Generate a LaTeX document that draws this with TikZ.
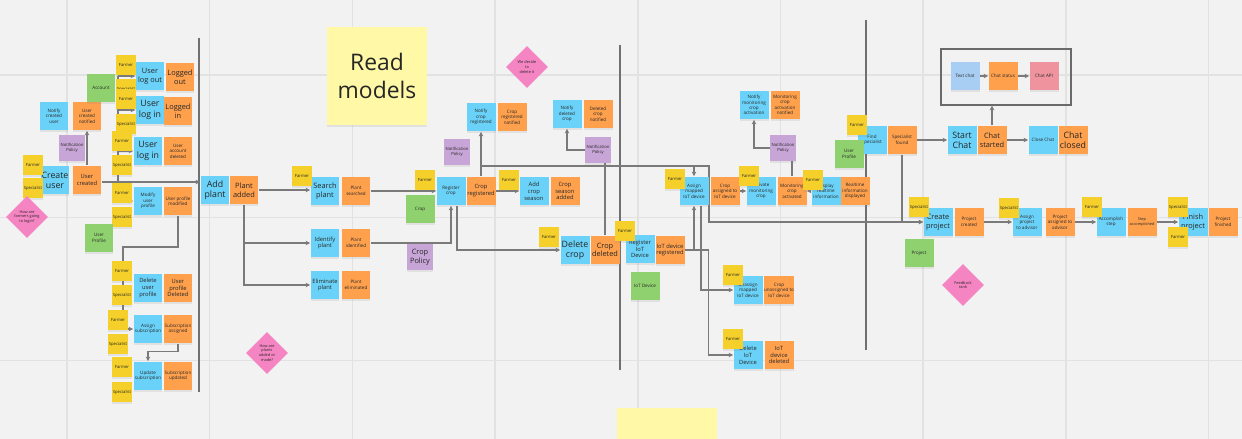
\documentclass[tikz,border=0pt]{standalone}
\usepackage{fontspec}
\setmainfont{Open Sans}
\usetikzlibrary{shapes.geometric,arrows.meta,shadows}
\pgfdeclarelayer{back}
\pgfdeclarelayer{wires}
\pgfsetlayers{back,wires,main}
\definecolor{boardbg}{HTML}{F2F2F2}
\definecolor{gridline}{HTML}{E2E2E2}
\definecolor{sepgray}{HTML}{707070}
\definecolor{wiregray}{HTML}{7A7A7A}
\definecolor{boxgray}{HTML}{6A6A6A}
\definecolor{cmdblue}{HTML}{6AD2F8}
\definecolor{evtorange}{HTML}{FFA04D}
\definecolor{actyellow}{HTML}{F5D02A}
\definecolor{aggrgreen}{HTML}{8FD16F}
\definecolor{polpurple}{HTML}{C8A5D7}
\definecolor{hotpink}{HTML}{F584C3}
\definecolor{readyellow}{HTML}{FFF8A6}
\definecolor{sendblue}{HTML}{A9CEF4}
\definecolor{kpired}{HTML}{EF949F}
\tikzset{
  sticky/.style={rectangle, inner sep=0.3pt, align=center, text=black!85,
    font=\fontsize{2.6}{3.1}\selectfont,
    drop shadow={shadow xshift=0pt, shadow yshift=-1pt, opacity=0.15}},
  cmd/.style={sticky, fill=cmdblue, minimum width=0.58cm, minimum height=0.58cm},
  evt/.style={sticky, fill=evtorange, minimum width=0.58cm, minimum height=0.58cm},
  actor/.style={sticky, fill=actyellow, minimum size=0.4cm, font=\fontsize{2.4}{2.9}\selectfont},
  aggr/.style={sticky, fill=aggrgreen, minimum size=0.58cm},
  policy/.style={sticky, fill=polpurple, minimum size=0.52cm, font=\fontsize{2.4}{2.9}\selectfont},
  hotspot/.style={diamond, aspect=1, fill=hotpink, minimum size=0.84cm, inner sep=0pt,
    align=center, text=black!85, font=\fontsize{2.2}{2.7}\selectfont},
  bigtxt/.style={font=\fontsize{5}{5.8}\selectfont},
  lgtxt/.style={font=\fontsize{4.2}{4.9}\selectfont},
  midtxt/.style={font=\fontsize{3.3}{3.9}\selectfont},
  tinytxt/.style={font=\fontsize{2.2}{2.7}\selectfont},
  wire/.style={draw=wiregray, line width=0.6pt, -{Stealth[length=2.6pt,width=2.6pt]}},
  plainwire/.style={draw=wiregray, line width=0.6pt},
}
\begin{document}
\begin{tikzpicture}[x=0.02cm, y=-0.02cm]
\useasboundingbox (0,0) rectangle (1242,439);

\node[sticky, fill=readyellow, minimum width=2cm, minimum height=1.96cm, font=\fontsize{13}{15.5}\selectfont] (readmodels) at (377,76) {Read\\models};
\node[sticky, fill=readyellow, minimum width=2cm, minimum height=1.96cm] (draft) at (667,457) {};

\node[cmd, lgtxt] (userlogout) at (150,76) {User\\log out};
\node[evt, lgtxt] (loggedout) at (180,77) {Logged\\out};
\node[cmd, bigtxt] (userlogin1) at (150,110) {User\\log in};
\node[evt, lgtxt] (loggedin) at (178,111) {Logged\\in};
\node[cmd, bigtxt] (userlogin2) at (148,151) {User\\log in};
\node[evt] (accountdeleted) at (178,151) {User\\account\\deleted};
\node[cmd] (notifyuser) at (54,116) {Notify\\created\\user};
\node[evt] (usernotified) at (87,116) {User\\created\\notified};
\node[cmd, bigtxt] (createuser) at (55,180) {Create\\user};
\node[evt, midtxt] (usercreated) at (87,180) {User\\created};
\node[cmd] (modifyprofile) at (148,201) {Modify\\user\\profile};
\node[evt] (profilemodified) at (178,201) {User profile\\modified};
\node[cmd, midtxt] (deleteprofile) at (148,288) {Delete\\user\\profile};
\node[evt, midtxt] (profiledeleted) at (178,288) {User\\profile\\Deleted};
\node[cmd] (assignsub) at (148,329) {Assign\\subscription};
\node[evt] (subassigned) at (178,329) {Subscription\\assigned};
\node[cmd] (updatesub) at (148,376) {Update\\subscription};
\node[evt] (subupdated) at (178,376) {Subscription\\updated};

\node[actor] (farmer1) at (126,65) {Farmer};
\node[actor] (spec1) at (126,89) {Specialist};
\node[actor] (farmer2) at (126,99) {Farmer};
\node[actor] (spec2) at (126,124) {Specialist};
\node[actor] (farmer3) at (122,141) {Farmer};
\node[actor] (spec3) at (122,165) {Specialist};
\node[actor] (farmer4) at (122,193) {Farmer};
\node[actor] (spec4) at (122,217) {Specialist};
\node[actor] (farmer5) at (33,165) {Farmer};
\node[actor] (spec5) at (33,188) {Specialist};
\node[actor] (farmer6) at (122,271) {Farmer};
\node[actor] (spec6) at (122,295) {Specialist};
\node[actor] (farmer7) at (118,320) {Farmer};
\node[actor] (spec7) at (118,344) {Specialist};
\node[actor] (farmer8) at (122,367) {Farmer};
\node[actor] (spec8) at (122,392) {Specialist};
\node[aggr] (account) at (101,88) {Account};
\node[aggr] (userprofile1) at (99,238) {User\\Profile};
\node[policy] (policy1) at (72,148) {Notification\\Policy};
\node[hotspot] (hot1) at (27,217) {How are\\farmers going\\to login?};
\node[hotspot] (hot2) at (267,353) {How are\\plants\\added or\\made?};

\node[cmd, bigtxt] (addplant) at (215,190) {Add\\plant};
\node[evt, lgtxt] (plantadded) at (244,190) {Plant\\added};
\node[cmd, lgtxt] (searchplant) at (325,191) {Search\\plant};
\node[evt] (plantsearched) at (356,191) {Plant\\searched};
\node[cmd, midtxt] (identifyplant) at (325,243) {Identify\\plant};
\node[evt] (plantidentified) at (356,243) {Plant\\identified};
\node[cmd, midtxt] (eliminateplant) at (325,285) {Eliminate\\plant};
\node[evt] (planteliminated) at (356,285) {Plant\\eliminated};
\node[cmd] (registercrop) at (451,191) {Register\\crop};
\node[evt, midtxt] (cropregistered) at (481,191) {Crop\\registered};
\node[cmd] (notifycropreg) at (481,117) {Notify\\crop\\registered};
\node[evt] (cropregnotified) at (512,117) {Crop\\registered\\notified};
\node[cmd, midtxt] (addcropseason) at (534,191) {Add\\crop\\season};
\node[evt, midtxt] (seasonadded) at (565,191) {Crop\\season\\added};
\node[cmd, bigtxt] (deletecrop) at (575,250) {Delete\\crop};
\node[evt, lgtxt] (cropdeleted) at (605,250) {Crop\\deleted};
\node[cmd] (notifydeleted) at (567,114) {Notify\\deleted\\crop};
\node[evt] (deletednotified) at (598,114) {Deleted\\crop\\notified};

\node[actor] (farmer9) at (302,176) {Farmer};
\node[actor] (farmer10) at (425,180) {Farmer};
\node[aggr] (crop) at (420,209) {Crop};
\node[policy, lgtxt] (croppolicy) at (420,257) {Crop\\Policy};
\node[policy] (policy2) at (457,152) {Notification\\Policy};
\node[actor] (farmer11) at (509,180) {Farmer};
\node[actor] (farmer12) at (549,237) {Farmer};
\node[policy] (policy3) at (598,150) {Notification\\Policy};
\node[hotspot] (hot3) at (527,67) {We decide\\to\\delete it};

\node[cmd, midtxt] (registeriot) at (640,249) {Register\\IoT\\Device};
\node[evt, midtxt] (iotregistered) at (670,250) {IoT device\\registered};
\node[cmd] (assignmapped) at (694,191) {Assign\\mapped\\IoT device};
\node[evt] (cropassigned) at (725,191) {Crop\\assigned to\\IoT device};
\node[cmd] (activatemon) at (761,191) {Activate\\monitoring\\crop};
\node[evt] (monactivated) at (792,191) {Monitoring\\crop\\activated};
\node[cmd] (notifymon) at (754,105) {Notify\\monitoring\\crop\\activation};
\node[evt] (monnotified) at (785,105) {Monitoring\\crop\\activation\\notified};
\node[cmd] (displayrt) at (826,191) {Display\\realtime\\information};
\node[evt] (rtdisplayed) at (855,191) {Realtime\\information\\displayed};
\node[cmd] (unassign) at (748,290) {Unassign\\mapped\\IoT device};
\node[evt] (cropunassigned) at (779,290) {Crop\\unassigned to\\IoT device};
\node[cmd, midtxt] (deleteiot) at (748,355) {Delete\\IoT\\Device};
\node[evt, midtxt] (iotdeleted) at (779,355) {IoT\\device\\deleted};

\node[actor] (farmer13) at (625,231) {Farmer};
\node[aggr] (iotdevice) at (645,286) {IoT Device};
\node[actor] (farmer14) at (675,179) {Farmer};
\node[actor] (farmer15) at (749,176) {Farmer};
\node[policy] (policy4) at (783,148) {Notification\\Policy};
\node[actor] (farmer16) at (813,180) {Farmer};
\node[actor] (farmer17) at (733,275) {Farmer};
\node[actor] (farmer18) at (733,339) {Farmer};

\node[cmd] (findspecialist) at (872,140) {Find\\specialist};
\node[evt] (specialistfound) at (902,140) {Specialist\\found};
\node[cmd, bigtxt] (startchat) at (962,140) {Start\\Chat};
\node[evt, lgtxt] (chatstarted) at (992,140) {Chat\\started};
\node[cmd] (closechat) at (1043,140) {Close Chat};
\node[evt, bigtxt] (chatclosed) at (1073,140) {Chat\\closed};
\node[draw=boxgray, line width=0.8pt, minimum width=2.6cm, minimum height=1.12cm] (chatbox) at (1006,77) {};
\node[sticky, fill=sendblue, minimum size=0.58cm] (sendtext) at (965,76) {Text chat};
\node[evt] (chatstatus) at (1003,76) {Chat status};
\node[sticky, fill=kpired, minimum size=0.58cm] (chatapi) at (1044,76) {Chat API};
\node[cmd, lgtxt] (createproject) at (938,222) {Create\\project};
\node[evt] (projectcreated) at (969,222) {Project\\created};
\node[cmd] (assignproject) at (1027,222) {Assign\\project\\to advisor};
\node[evt] (projectassigned) at (1060,222) {Project\\assigned to\\advisor};
\node[cmd] (accomplishstep) at (1111,222) {Accomplish\\step};
\node[evt, tinytxt] (stepaccomplished) at (1142,222) {Step\\accomplished};
\node[cmd, lgtxt] (finishproject) at (1193,222) {Finish\\project};
\node[evt] (projectfinished) at (1223,222) {Project\\finished};

\node[actor] (farmer19) at (857,125) {Farmer};
\node[aggr] (userprofile2) at (849,154) {User\\Profile};
\node[actor] (spec9) at (919,207) {Specialist};
\node[aggr] (project) at (919,253) {Project};
\node[actor] (spec10) at (1009,208) {Specialist};
\node[actor] (farmer20) at (1092,207) {Farmer};
\node[actor] (spec11) at (1178,207) {Specialist};
\node[actor] (farmer21) at (1178,237) {Farmer};
\node[hotspot] (hot4) at (963,285) {Feedback\\rank};

\begin{pgfonlayer}{wires}
\coordinate (trunk) at (118,182);
\coordinate (bend1) at (123,247);
\coordinate (bus) at (709,166);
\draw[wire] (usercreated.east |- trunk) -- (addplant.west |- trunk);
\draw[plainwire] (trunk) -- (trunk |- userlogout.west);
\draw[wire] (trunk |- userlogout.west) -- (userlogout.west);
\draw[wire] (trunk |- userlogin1.west) -- (userlogin1.west);
\draw[wire] (trunk |- userlogin2.west) -- (userlogin2.west);
\draw[wire] (trunk) |- (modifyprofile.west);
\draw[wire] (usercreated.north) -- (usernotified.south);
\draw[wire] (profilemodified.south) |- (bend1) |- (assignsub.west);
\draw[wire] (subassigned.south) -- ++(0,8) -| (updatesub.north);
\draw[wire] (plantadded.east) -- (searchplant.west |- plantadded.east);
\draw[wire] (plantadded.south) |- (identifyplant.west);
\draw[wire] (plantadded.south) |- (eliminateplant.west);
\draw[wire] (plantsearched.east) -- (registercrop.west);
\draw[wire] (plantidentified.east) -| (registercrop.south);
\draw[wire] ([xshift=0.12cm]registercrop.south) |- (deletecrop.west);
\draw[wire] (cropregistered.north) -- (notifycropreg.south);
\draw[wire] (cropregistered.east) -- (addcropseason.west);
\draw[wire] (cropregistered.north) |- (bus) |- (createproject.west);
\draw[wire] (assignmapped.north |- bus) -- (assignmapped.north);
\draw[plainwire] (cropdeleted.north) -- (cropdeleted.north |- policy3.south);
\draw[wire] (policy3.west) -| (notifydeleted.south);
\draw[wire] (iotregistered.east) -| (assignmapped.south);
\draw[wire] (iotregistered.east) -- ++(24,0) |- (deleteiot.west);
\draw[wire] ([xshift=0.14cm]assignmapped.south) |- (unassign.west);
\draw[wire] (cropassigned.east) -- (activatemon.west);
\draw[wire] (displayrt.west) -- (monactivated.east);
\draw[plainwire] (monactivated.north) -- (monactivated.north |- policy4.south);
\draw[wire] (policy4.west) -| (notifymon.south);
\draw[wire] (specialistfound.east) -- (startchat.west);
\draw[wire] (specialistfound.south) |- (createproject.west);
\draw[wire] (chatstarted.east) -- (closechat.west);
\draw[wire] (chatstarted.north) -- (chatstarted.north |- chatbox.south);
\draw[wire] (sendtext.east) -- (chatstatus.west);
\draw[wire] (chatstatus.east) -- (chatapi.west);
\draw[wire] (projectcreated.east) -- (assignproject.west);
\draw[wire] (projectassigned.east) -- (accomplishstep.west);
\draw[wire] (stepaccomplished.east) -- (finishproject.west);
\end{pgfonlayer}

\begin{pgfonlayer}{back}
\fill[boardbg] (0,0) rectangle (1242,439);
\foreach \gx in {67,209.7,352.4,495.1,637.8,780.5,923.2,1065.9,1208.6}
  \draw[gridline, line width=0.9pt] (\gx,0) -- (\gx,439);
\foreach \gy in {75,217.7,360.4}
  \draw[gridline, line width=0.9pt] (0,\gy) -- (1242,\gy);
\draw[sepgray, line width=0.6pt] (199,38) -- (199,392);
\draw[sepgray, line width=0.6pt] (620,45) -- (620,370);
\draw[sepgray, line width=0.6pt] (866,20) -- (866,350);
\end{pgfonlayer}
\end{tikzpicture}
\end{document}
